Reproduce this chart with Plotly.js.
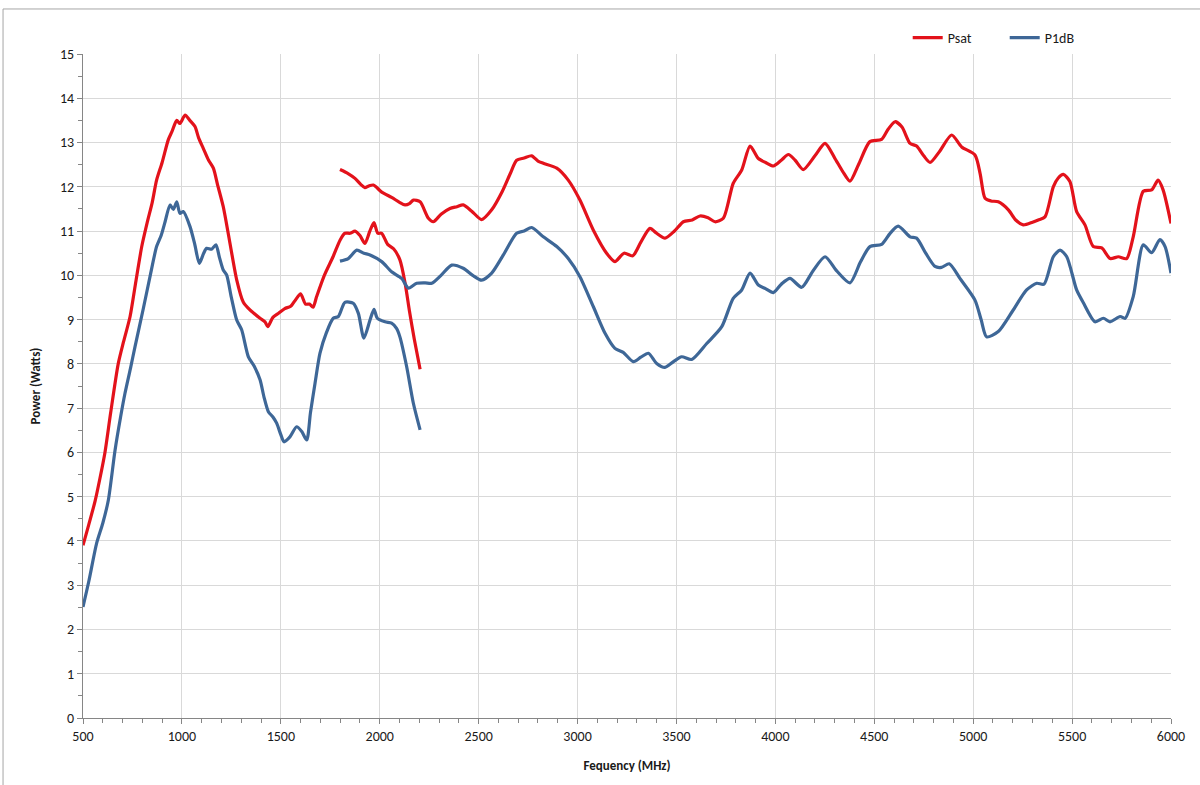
<!DOCTYPE html>
<html>
<head>
<meta charset="utf-8">
<script src="https://cdn.plot.ly/plotly-3.0.1.min.js"></script>
<style>html,body{margin:0;padding:0;background:#fff;}#chart{width:1200px;height:785px;}</style>
</head>
<body>
<div id="chart"></div>
<script>
// Psat, low band segment
const psatFreqLow = [500,525,561,585,611,640,678,705,738,765,797,825,850,872,900,931,950,974,990,1016,1040,1066,1085,1108,1135,1159,1180,1209,1240,1277,1310,1344,1395,1420,1434,1460,1490,1520,1550,1575,1600,1625,1645,1663,1681,1720,1764,1800,1824,1850,1875,1900,1925,1950,1971,1990,2010,2040,2070,2102,2128,2150,2175,2204];
const psatLow = [3.9,4.3,4.9,5.4,6.0,6.9,8.0,8.5,9.07,9.8,10.65,11.2,11.65,12.15,12.55,13.06,13.25,13.5,13.43,13.62,13.5,13.36,13.1,12.87,12.6,12.42,12.05,11.55,10.8,9.9,9.4,9.22,9.03,8.95,8.84,9.05,9.15,9.25,9.3,9.45,9.58,9.35,9.35,9.28,9.52,10.0,10.42,10.8,10.95,10.95,11.0,10.9,10.72,11.0,11.19,10.95,10.95,10.7,10.6,10.35,9.83,9.2,8.55,7.88];
// Psat, high band segment
const psatFreqHigh = [1799,1840,1875,1905,1925,1945,1968,2010,2060,2100,2128,2150,2170,2204,2246,2271,2310,2355,2390,2422,2465,2515,2566,2620,2660,2692,2730,2768,2800,2827,2895,2953,3012,3080,3147,3189,3235,3279,3320,3366,3400,3442,3490,3535,3580,3619,3660,3695,3737,3787,3830,3872,3914,3950,3990,4030,4066,4100,4141,4200,4251,4300,4340,4377,4420,4478,4537,4570,4605,4640,4681,4714,4750,4782,4830,4891,4942,5009,5035,5060,5090,5127,5178,5215,5253,5300,5329,5363,5405,5430,5456,5489,5523,5565,5607,5650,5692,5734,5776,5809,5860,5902,5935,5960,6000];
const psatHigh = [12.39,12.3,12.19,12.05,11.98,12.02,12.04,11.88,11.76,11.65,11.59,11.62,11.7,11.66,11.29,11.21,11.38,11.51,11.55,11.59,11.45,11.26,11.48,11.9,12.3,12.6,12.65,12.7,12.58,12.53,12.42,12.15,11.7,11.02,10.5,10.31,10.5,10.44,10.75,11.06,10.95,10.84,11.0,11.21,11.25,11.34,11.3,11.21,11.29,12.08,12.38,12.92,12.64,12.55,12.47,12.6,12.73,12.6,12.39,12.7,12.98,12.65,12.35,12.13,12.5,13.02,13.07,13.3,13.47,13.35,12.98,12.92,12.7,12.55,12.8,13.17,12.9,12.72,12.3,11.74,11.68,11.66,11.48,11.25,11.14,11.2,11.25,11.32,12.0,12.2,12.28,12.12,11.44,11.14,10.65,10.62,10.38,10.42,10.38,10.87,11.9,11.93,12.15,11.93,11.17];
// P1dB, low band segment
const p1dbFreqLow = [500,530,569,600,628,662,690,712,740,763,805,840,872,895,915,940,957,974,990,1007,1041,1065,1088,1110,1125,1150,1172,1190,1209,1226,1250,1277,1302,1336,1365,1395,1415,1437,1460,1479,1500,1516,1546,1580,1606,1631,1650,1673,1698,1730,1765,1791,1824,1866,1892,1920,1951,1971,1988,2027,2060,2085,2102,2136,2170,2204];
const p1dbLow = [2.51,3.1,3.95,4.4,4.92,6.05,6.8,7.33,7.9,8.39,9.25,10.0,10.65,10.9,11.21,11.59,11.49,11.66,11.4,11.44,11.1,10.7,10.27,10.5,10.61,10.59,10.69,10.4,10.12,10.01,9.5,8.99,8.77,8.16,7.95,7.64,7.25,6.92,6.8,6.66,6.4,6.24,6.35,6.58,6.47,6.28,6.9,7.56,8.24,8.7,9.03,9.07,9.39,9.37,9.14,8.58,8.99,9.23,9.03,8.95,8.92,8.8,8.61,7.94,7.11,6.51];
// P1dB, high band segment
const p1dbFreqHigh = [1799,1841,1884,1920,1951,2010,2060,2111,2145,2187,2230,2263,2310,2364,2422,2470,2515,2566,2625,2692,2730,2768,2827,2895,2953,3012,3080,3139,3189,3231,3282,3320,3358,3400,3442,3485,3526,3577,3653,3729,3787,3830,3872,3914,3950,3990,4030,4074,4133,4190,4251,4310,4377,4430,4478,4537,4580,4621,4681,4714,4760,4807,4840,4879,4933,5009,5040,5068,5127,5200,5270,5321,5358,5405,5439,5473,5523,5557,5616,5658,5692,5743,5768,5809,5860,5902,5944,5970,6000];
const p1dbHigh = [10.32,10.38,10.57,10.5,10.46,10.31,10.08,9.93,9.71,9.82,9.83,9.82,10.0,10.23,10.16,10.0,9.89,10.05,10.46,10.95,11.0,11.08,10.87,10.65,10.38,9.97,9.29,8.69,8.35,8.26,8.05,8.15,8.24,8.01,7.92,8.05,8.16,8.1,8.46,8.84,9.48,9.67,10.05,9.78,9.7,9.61,9.8,9.93,9.73,10.1,10.42,10.1,9.83,10.3,10.65,10.7,10.95,11.11,10.87,10.84,10.5,10.2,10.18,10.26,9.93,9.44,9.0,8.61,8.73,9.2,9.67,9.82,9.8,10.42,10.57,10.42,9.67,9.38,8.95,9.03,8.95,9.07,9.03,9.52,10.69,10.51,10.81,10.65,10.05];

const seriesNames = ['Psat','P1dB'];
const xTickVals = [500,1000,1500,2000,2500,3000,3500,4000,4500,5000,5500,6000];
const yTickVals = [0,1,2,3,4,5,6,7,8,9,10,11,12,13,14,15];

function join(fa, va, fb, vb){
  return {x: fa.concat([null], fb), y: va.concat([null], vb)};
}
const psat = join(psatFreqLow, psatLow, psatFreqHigh, psatHigh);
const p1db = join(p1dbFreqLow, p1dbLow, p1dbFreqHigh, p1dbHigh);

const font = "Carlito, 'Liberation Sans Narrow', 'Liberation Sans', Arial, sans-serif";

const traces = [
  {x: psat.x, y: psat.y, name: seriesNames[0], type: 'scatter', mode: 'lines', connectgaps: false,
   line: {color: '#e3121b', width: 3.2, shape: 'spline', smoothing: 0.7}},
  {x: p1db.x, y: p1db.y, name: seriesNames[1], type: 'scatter', mode: 'lines', connectgaps: false,
   line: {color: '#3e6797', width: 3.2, shape: 'spline', smoothing: 0.7}}
];

const layout = {
  width: 1200, height: 785,
  margin: {l: 83, r: 29, t: 54, b: 67},
  paper_bgcolor: '#fff', plot_bgcolor: '#fff',
  font: {family: font, size: 14, color: '#1a1a1a'},
  showlegend: true,
  legend: {orientation: 'h', x: 0.758, xanchor: 'left', y: 1.024, yanchor: 'middle',
           font: {family: font, size: 14, color: '#1a1a1a'}, bgcolor: 'rgba(0,0,0,0)',
           itemwidth: 30, entrywidth: 52, entrywidthmode: 'pixels', tracegroupgap: 0},
  xaxis: {
    range: [500, 6000], tickvals: xTickVals, ticktext: xTickVals.map(String),
    showgrid: true, gridcolor: '#d9d9d9', gridwidth: 1,
    showline: true, linecolor: '#868686', linewidth: 1,
    ticks: 'outside', ticklen: 5, tickcolor: '#868686',
    minor: {dtick: 100, tick0: 500, ticks: 'outside', ticklen: 4, tickcolor: '#868686', showgrid: false},
    zeroline: false, tickfont: {size: 14},
    title: {text: '<b>Fequency (MHz)</b>', font: {size: 13}, standoff: 17}
  },
  yaxis: {
    range: [0, 15], tickvals: yTickVals, ticktext: yTickVals.map(String),
    showgrid: true, gridcolor: '#d9d9d9', gridwidth: 1,
    showline: true, linecolor: '#868686', linewidth: 1,
    ticks: 'outside', ticklen: 5, tickcolor: '#868686',
    minor: {dtick: 0.5, tick0: 0, ticks: 'outside', ticklen: 4, tickcolor: '#868686', showgrid: false},
    zeroline: false, tickfont: {size: 14},
    title: {text: '<b>Power (Watts)</b>', font: {size: 13}, standoff: 16}
  },
  shapes: [
    {type: 'rect', xref: 'paper', yref: 'paper', x0: -0.0735, x1: 1.1, y0: -0.2, y1: 1.0678,
     line: {color: '#a6a6a6', width: 1}, fillcolor: 'rgba(0,0,0,0)', layer: 'below'}
  ]
};

Plotly.newPlot('chart', traces, layout, {displayModeBar: false, staticPlot: true});
</script>
</body>
</html>
